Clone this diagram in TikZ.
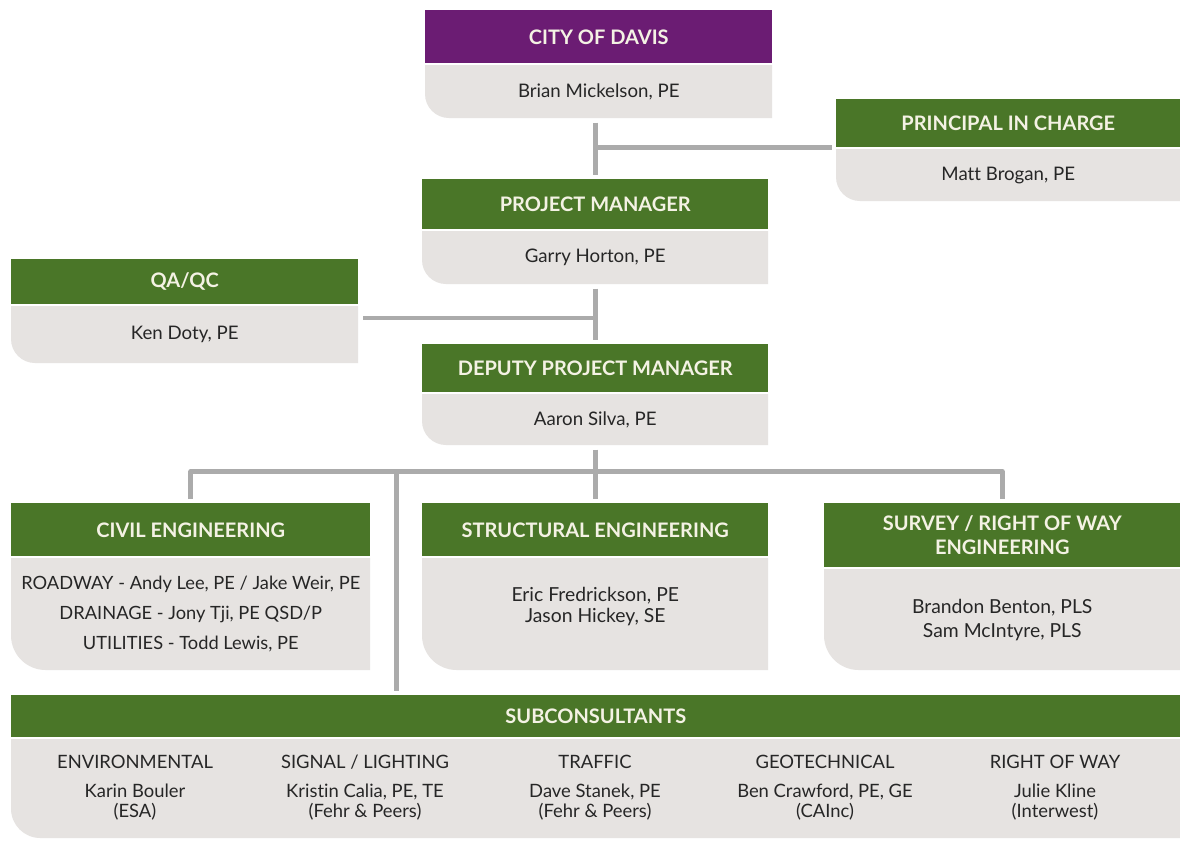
\documentclass[tikz,border=0pt]{standalone}
\usepackage{fontspec}
\setmainfont{Lato}[Ligatures=NoCommon]
\usetikzlibrary{calc}
\definecolor{hgreen}{HTML}{4A7628}
\definecolor{hpurple}{HTML}{6B1C73}
\definecolor{bgrey}{HTML}{E6E3E1}
\definecolor{lgrey}{HTML}{ABABAB}
\definecolor{htext}{HTML}{F4F2E4}
\definecolor{btext}{HTML}{262626}
\tikzset{
  hdr/.style={fill=hgreen, text=htext, font=\bfseries\fontsize{15}{18}\selectfont, inner sep=0pt, anchor=north west, align=center},
  barea/.style={inner sep=0pt, anchor=north west},
  btxt/.style={text=btext, font=\fontsize{14}{17}\selectfont, align=center, inner sep=0pt},
  link/.style={draw=lgrey, line width=3.5pt, shorten <=3pt, shorten >=3pt}
}
% name, x1, x2, header top, header bottom, body bottom, radius(pt), header colour, title
\newcommand\orgbox[9]{%
  \node[hdr, fill=#8, minimum width={(#3-#2)*0.75pt}, minimum height={(#5-#4)*0.75pt}] (#1) at (#2,#4) {#9};
  \fill[bgrey] (#2,#5+2) [rounded corners=#7] -- (#2,#6) [sharp corners] -- (#3,#6) -- (#3,#5+2) -- cycle;
  \node[barea, minimum width={(#3-#2)*0.75pt}, minimum height={(#6-#5-2)*0.75pt}] (#1b) at (#2,#5+2) {};
}
\begin{document}
\begin{tikzpicture}[x=0.75pt,y=-0.75pt]
\useasboundingbox (0,0) rectangle (1180,840);
\fill[white] (0,0) rectangle (1180,840);

\orgbox{city}{425}{772}{10}{63}{118}{18pt}{hpurple}{CITY OF DAVIS}
\orgbox{pic}{836}{1180}{99}{147}{201}{18pt}{hgreen}{PRINCIPAL IN CHARGE}
\orgbox{pm}{422}{768}{179}{229}{284}{18pt}{hgreen}{PROJECT MANAGER}
\orgbox{qa}{11}{358}{259}{304}{363}{18pt}{hgreen}{QA/QC}
\orgbox{dpm}{422}{768}{344}{392}{445}{18pt}{hgreen}{DEPUTY PROJECT MANAGER}
\orgbox{civil}{11}{370}{503}{556}{670}{26pt}{hgreen}{CIVIL ENGINEERING}
\orgbox{struct}{422}{768}{503}{556}{670}{26pt}{hgreen}{STRUCTURAL ENGINEERING}
\orgbox{survey}{824}{1180}{503}{567}{670}{26pt}{hgreen}{SURVEY / RIGHT OF WAY\\ENGINEERING}
\orgbox{sub}{11}{1180}{695}{737}{838}{22pt}{hgreen}{SUBCONSULTANTS}

\node[btxt] (cityt) at (cityb) {Brian Mickelson, PE};
\node[btxt] (pict) at (picb) {Matt Brogan, PE};
\node[btxt] (pmt) at (pmb) {Garry Horton, PE};
\node[btxt] (qat) at (qab) {Ken Doty, PE};
\node[btxt] (dpmt) at (dpmb) {Aaron Silva, PE};
\node[btxt, font=\fontsize{13.7}{22.5}\selectfont] (civilt) at (civilb) {ROADWAY - Andy Lee, PE / Jake Weir, PE\\DRAINAGE - Jony Tji, PE QSD/P\\UTILITIES - Todd Lewis, PE};
\node[btxt, font=\fontsize{14.5}{15.75}\selectfont] (structt) at ($(structb)+(0,-8)$) {Eric Fredrickson, PE\\Jason Hickey, SE};
\node[btxt, font=\fontsize{14.5}{18}\selectfont] (surveyt) at (surveyb) {Brandon Benton, PLS\\Sam McIntyre, PLS};

\tikzset{stxt/.style={btxt, font=\fontsize{13.8}{15}\selectfont}}
\node[stxt] (envc) at (135,762) {ENVIRONMENTAL};
\node[stxt] (sigc) at (365,762) {SIGNAL / LIGHTING};
\node[stxt] (trac) at (595,762) {TRAFFIC};
\node[stxt] (geoc) at (825,762) {GEOTECHNICAL};
\node[stxt] (rowc) at (1055,762) {RIGHT OF WAY};
\node[stxt] (envn) at (135,802) {Karin Bouler\\(ESA)};
\node[stxt] (sign) at (365,802) {Kristin Calia, PE, TE\\(Fehr \& Peers)};
\node[stxt] (tran) at (595,802) {Dave Stanek, PE\\(Fehr \& Peers)};
\node[stxt] (geon) at (825,802) {Ben Crawford, PE, GE\\(CAInc)};
\node[stxt] (rown) at (1055,802) {Julie Kline\\(Interwest)};

% connectors
\draw[link] (cityb.south -| pm.north) -- (pm.north);
\coordinate (j1) at ($(pm.north)!0.52!(pm.north |- cityb.south)$);
\draw[link, shorten <=0pt] (j1) -- (j1 -| pic.west);
\draw[link] (pmb.south) -- (dpm.north);
\coordinate (j2) at ($(pmb.south)!0.56!(dpm.north)$);
\draw[link, shorten <=0pt] (j2) -- (j2 -| qab.east);
\path (dpmb.south) ++(0,26) coordinate (j3);
\draw[link] (dpmb.south) -- (struct.north);
\draw[link, line join=round] (civil.north) |- (j3) -| (survey.north);
\path (j3) ++(-199,0) coordinate (j4);
\draw[link, shorten <=0pt] (j4) -- (j4 |- sub.north);
\end{tikzpicture}
\end{document}
